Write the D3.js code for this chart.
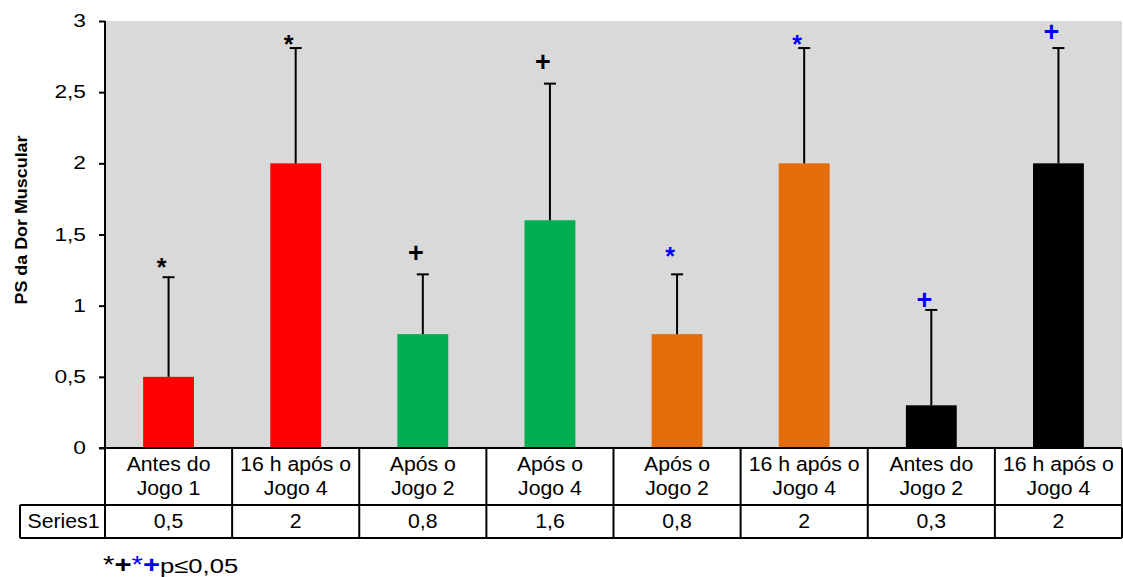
<!DOCTYPE html>
<html>
<head>
<meta charset="utf-8">
<script src="https://cdn.jsdelivr.net/npm/d3@7"></script>
<style>
  body { margin: 0; background: #fff; }
  svg { display: block; font-family: "Liberation Sans", Arial, sans-serif; }
</style>
</head>
<body>
<div id="chart"></div>
<script>
// chart data
const labels = [
  ["Antes do", "Jogo 1"],
  ["16 h após o", "Jogo 4"],
  ["Após o", "Jogo 2"],
  ["Após o", "Jogo 4"],
  ["Após o", "Jogo 2"],
  ["16 h após o", "Jogo 4"],
  ["Antes do", "Jogo 2"],
  ["16 h após o", "Jogo 4"]
];
const values = [0.5, 2, 0.8, 1.6, 0.8, 2, 0.3, 2];
const valueText = ["0,5", "2", "0,8", "1,6", "0,8", "2", "0,3", "2"];
const errTop = [1.2, 2.81, 1.22, 2.56, 1.22, 2.81, 0.97, 2.81];
const barColors = ["#ff0000", "#ff0000", "#00b050", "#00b050", "#e46c0a", "#e46c0a", "#000000", "#000000"];
const markSym = ["*", "*", "+", "+", "*", "*", "+", "+"];
const markColor = ["#000", "#000", "#000", "#000", "#0000ff", "#0000ff", "#0000ff", "#0000ff"];
const markAt = [1.30, 2.87, 1.37, 2.71, 1.38, 2.87, 1.04, 2.92];
const yTicks = [0, 0.5, 1, 1.5, 2, 2.5, 3];
const seriesName = "Series1";

const width = 1123, height = 577;
const plotLeft = 105, plotRight = 1122, plotTop = 21, plotBottom = 448;
const rowLabelBottom = 505, rowValueBottom = 538, tableLeft = 20;

const svg = d3.select("#chart").append("svg")
    .attr("width", width).attr("height", height);

const x = d3.scaleBand().domain(d3.range(values.length)).range([plotLeft, plotRight]);
const y = d3.scaleLinear().domain([0, 3]).range([plotBottom, plotTop]);

// text that is a bit wider than Liberation Sans, like the original
function wideText(g, px, py, sx, size) {
    return g.append("text")
        .attr("transform", "translate(" + px + "," + py + ") scale(" + sx + ",1)")
        .attr("font-size", size);
}

// plot background
svg.append("rect")
    .attr("x", plotLeft).attr("y", plotTop)
    .attr("width", plotRight - plotLeft).attr("height", plotBottom - plotTop)
    .attr("fill", "#d9d9d9");

// bars
const bw = x.bandwidth() * 0.4;
svg.selectAll("rect.bar")
    .data(values)
    .enter().append("rect")
    .attr("class", "bar")
    .attr("x", (d, i) => x(i) + (x.bandwidth() - bw) / 2)
    .attr("y", d => y(d))
    .attr("width", bw)
    .attr("height", d => y(0) - y(d))
    .attr("fill", (d, i) => barColors[i]);

// error bars (upper only)
const cx = i => x(i) + x.bandwidth() / 2;
const err = svg.append("g").attr("stroke", "#000").attr("stroke-width", 2);
values.forEach(function(v, i) {
    err.append("line")
        .attr("x1", cx(i)).attr("x2", cx(i))
        .attr("y1", y(v)).attr("y2", y(errTop[i]));
    err.append("line")
        .attr("x1", cx(i) - 6).attr("x2", cx(i) + 6)
        .attr("y1", y(errTop[i])).attr("y2", y(errTop[i]));
});

// significance markers
markSym.forEach(function(s, i) {
    const star = s == "*";
    svg.append("text")
        .attr("x", cx(i) - 7)
        .attr("y", y(markAt[i]) + (star ? 13 : 9))
        .attr("text-anchor", "middle")
        .attr("font-size", star ? 25 : 27)
        .attr("font-weight", "bold")
        .attr("fill", markColor[i])
        .text(s);
});

// y axis
const yAxis = d3.axisLeft(y).tickValues(yTicks).tickSize(6)
    .tickFormat(d => String(d).replace(".", ","));
const ya = svg.append("g")
    .attr("transform", "translate(" + plotLeft + ",0)")
    .call(yAxis);
ya.select(".domain").remove();
ya.selectAll(".tick line").attr("stroke", "#000").attr("stroke-width", 2);
ya.selectAll(".tick text")
    .attr("font-size", 17.5).attr("fill", "#000")
    .attr("font-family", "Liberation Sans, Arial, sans-serif")
    .attr("x", 0)
    .attr("transform", "translate(-19,0) scale(1.3,1)");

// y label
svg.append("text")
    .attr("transform", "translate(27,220) rotate(-90) scale(1.12,1)")
    .attr("text-anchor", "middle")
    .attr("font-size", 16).attr("font-weight", "bold")
    .text("PS da Dor Muscular");

// data table
const grid = svg.append("g").attr("stroke", "#000").attr("stroke-width", 2).attr("fill", "none");
grid.append("line").attr("x1", plotLeft - 6).attr("x2", plotRight).attr("y1", plotBottom).attr("y2", plotBottom);
grid.append("line").attr("x1", plotLeft).attr("x2", plotLeft).attr("y1", plotTop).attr("y2", rowValueBottom);
grid.append("line").attr("x1", tableLeft).attr("x2", plotRight).attr("y1", rowLabelBottom).attr("y2", rowLabelBottom);
grid.append("line").attr("x1", tableLeft).attr("x2", plotRight).attr("y1", rowValueBottom).attr("y2", rowValueBottom);
grid.append("line").attr("x1", tableLeft).attr("x2", tableLeft).attr("y1", rowLabelBottom).attr("y2", rowValueBottom);
values.forEach(function(v, i) {
    const xr = x(i) + x.bandwidth();
    grid.append("line").attr("x1", xr).attr("x2", xr).attr("y1", plotBottom).attr("y2", rowValueBottom);
});

labels.forEach(function(l, i) {
    const t = wideText(svg, cx(i), 471, 1.09, 19.5).attr("text-anchor", "middle");
    l.forEach(function(line, j) {
        t.append("tspan").attr("x", 0).attr("y", j * 24).text(line);
    });
    wideText(svg, cx(i), 528, 1.09, 19.5)
        .attr("text-anchor", "middle")
        .text(valueText[i]);
});

wideText(svg, (tableLeft + plotLeft) / 2 + 1, 528, 1.09, 19.5)
    .attr("text-anchor", "middle")
    .text(seriesName);

// footnote
const fn = wideText(svg, 103, 573, 1.22, 21);
fn.append("tspan").attr("font-size", 24).text("*");
fn.append("tspan").attr("font-weight", "bold").attr("font-size", 24).text("+");
fn.append("tspan").attr("fill", "#0000ff").attr("font-size", 24).text("*");
fn.append("tspan").attr("fill", "#0000ff").attr("font-weight", "bold").attr("font-size", 24).text("+");
fn.append("tspan").text("p≤0,05");
</script>
</body>
</html>
